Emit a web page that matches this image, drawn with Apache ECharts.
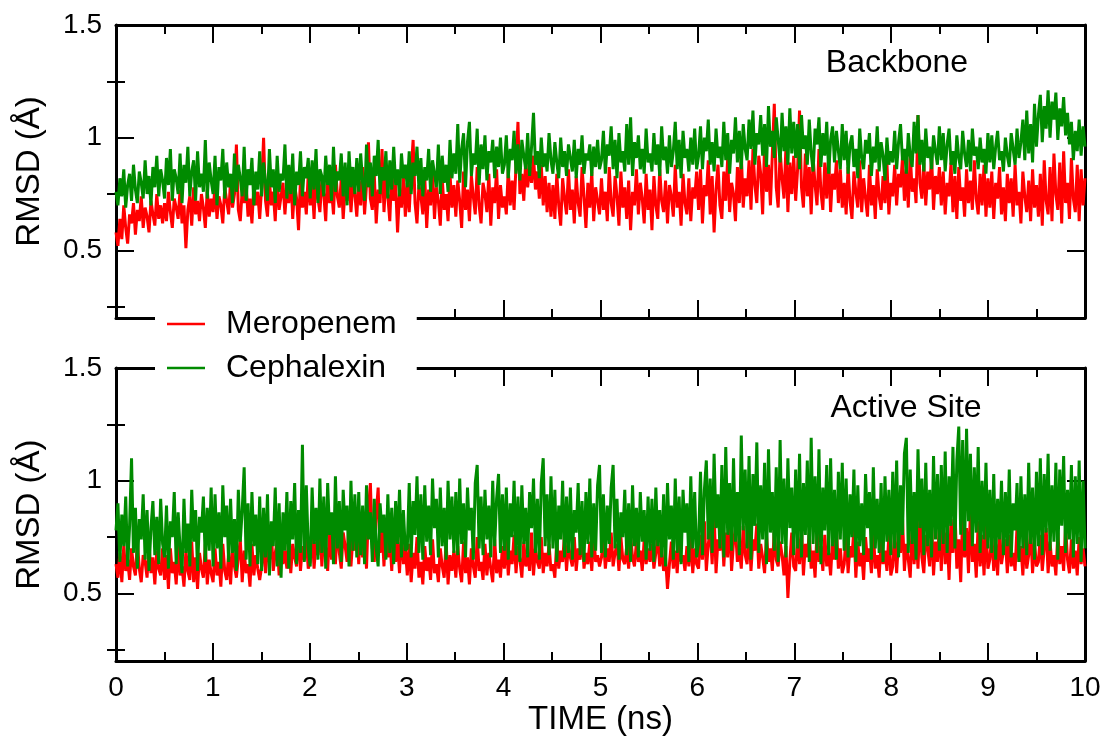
<!DOCTYPE html>
<html><head><meta charset="utf-8">
<script src="https://cdn.jsdelivr.net/npm/echarts@6/dist/echarts.min.js"></script>
<style>html,body{margin:0;padding:0;background:#fff}#c{width:1108px;height:737px}</style>
</head><body><div id="c"></div><script>
// ---- data (RMSD in Å, evenly sampled over 0–10 ns, 25 samples per 0.5 ns) ----
const timeRange = [0, 10];
const yTickValues = [0.5, 1, 1.5];
const yMinorValues = [0.25, 0.75, 1.25];
const seriesNames = ['Meropenem', 'Cephalexin'];
const panelLabels = ['Backbone', 'Active Site'];

const backboneMeropenem = [
0.58,0.52,0.64,0.55,0.70,0.60,0.53,0.66,0.62,0.71,0.57,0.68,0.63,0.74,0.60,0.69,0.65,0.58,0.72,0.66,0.61,0.75,0.64,0.70,0.62,
0.71,0.63,0.76,0.67,0.60,0.73,0.69,0.64,0.77,0.62,0.70,0.51,0.68,0.74,0.61,0.78,0.66,0.72,0.63,0.75,0.69,0.60,0.77,0.65,0.73,
0.67,0.79,0.64,0.74,0.70,0.62,0.78,0.72,0.66,0.81,0.69,0.75,0.97,0.68,0.63,0.77,0.71,0.80,0.65,0.73,0.62,0.79,0.70,0.76,0.64,
0.78,1.00,0.72,0.65,0.81,0.70,0.76,0.63,0.83,0.68,0.74,0.80,0.66,0.78,0.71,0.85,0.64,0.79,0.73,0.59,0.82,0.69,0.76,0.66,0.84,
0.70,0.79,0.64,0.86,0.73,0.67,0.81,0.75,0.63,0.84,0.71,0.77,0.66,0.88,0.74,0.69,0.82,0.64,0.78,0.72,0.86,0.67,0.80,0.75,0.65,
0.81,0.70,0.87,0.66,0.79,0.98,0.73,0.68,0.84,0.62,0.77,0.71,0.95,0.67,0.82,0.74,0.63,0.86,0.72,0.79,0.58,0.76,0.69,0.83,0.65,
0.80,0.67,0.85,0.99,0.71,0.62,0.79,0.74,0.66,0.83,0.60,0.77,0.70,0.86,0.64,0.78,0.72,0.61,0.82,0.68,0.75,0.63,0.84,0.69,0.79,
0.65,0.81,0.72,0.60,0.85,0.68,0.77,0.63,0.83,0.74,0.66,0.87,0.70,0.62,0.80,0.75,0.67,0.84,0.61,0.78,0.71,0.86,0.64,0.79,0.69,
0.74,0.66,0.86,0.70,0.81,0.68,0.88,1.07,0.75,0.84,0.72,0.90,0.78,0.87,0.80,0.92,0.77,0.85,0.73,0.88,0.70,0.83,0.67,0.80,0.65,
0.79,0.64,0.84,0.70,0.61,0.82,0.73,0.66,0.86,0.68,0.77,0.62,0.83,0.71,0.65,0.87,0.74,0.60,0.80,0.69,0.85,0.63,0.78,0.72,0.66,
0.82,0.68,0.76,0.63,0.87,0.71,0.65,0.83,0.74,0.61,0.85,0.69,0.78,0.64,0.81,0.59,0.76,0.70,0.86,0.66,0.80,0.73,0.62,0.84,0.68,
0.77,0.59,0.83,0.70,0.64,0.86,0.72,0.67,0.81,0.62,0.79,0.74,0.65,0.88,0.69,0.76,0.61,0.84,0.71,0.66,0.82,0.63,0.78,0.73,0.85,
0.68,0.86,0.62,0.79,0.74,0.90,0.66,0.83,0.58,0.77,0.88,0.70,0.64,0.85,0.72,0.91,0.67,0.80,0.75,0.63,0.87,0.71,0.93,0.69,0.82,
0.74,0.90,0.68,0.95,0.79,0.71,0.92,0.84,0.66,0.97,0.76,0.88,0.70,0.93,1.15,0.78,0.69,0.94,0.82,0.73,0.96,0.67,0.89,0.75,0.92,
0.72,0.86,1.12,0.78,0.69,0.93,0.74,0.87,0.66,0.91,0.79,0.70,0.95,0.76,0.68,0.89,0.73,0.92,0.67,0.84,0.77,0.90,0.71,0.86,0.69,
0.80,0.66,0.87,0.72,0.64,0.85,0.76,0.69,0.90,0.67,0.82,0.73,0.65,0.88,0.70,0.79,0.64,0.86,0.74,0.68,0.83,0.71,0.89,0.66,0.80,
0.74,0.88,0.70,0.84,0.78,0.91,0.72,0.86,0.69,0.93,0.76,0.82,0.71,1.10,0.80,0.73,0.89,0.70,0.85,0.77,0.92,0.68,0.83,0.75,0.87,
0.70,0.85,0.66,0.80,0.74,0.89,0.67,0.83,0.64,0.87,0.72,0.78,0.65,0.86,0.71,0.81,0.68,0.90,0.73,0.66,0.84,0.70,0.88,0.65,0.82,
0.69,0.85,0.64,0.80,0.73,0.87,0.66,0.78,0.63,0.84,0.71,0.82,0.65,0.88,0.70,0.76,0.62,0.85,0.74,0.67,0.81,0.63,0.86,0.69,0.79,
0.65,0.84,0.61,0.90,0.72,0.66,0.87,0.63,0.93,0.75,0.68,0.89,0.62,0.94,0.71,0.80,0.64,0.91,0.73,0.67,0.88,0.63,0.86,0.70,0.82
];
const backboneCephalexin = [
0.76,0.70,0.82,0.74,0.86,0.69,0.79,0.84,0.72,0.88,0.77,0.71,0.85,0.80,0.73,0.90,0.75,0.83,0.70,0.87,0.78,0.92,0.74,0.86,0.81,
0.73,0.91,0.79,0.95,0.72,0.86,0.82,0.75,0.93,0.71,0.88,0.80,0.96,0.74,0.85,0.90,0.72,0.94,0.78,0.84,0.76,0.99,0.73,0.89,0.81,
0.75,0.92,0.70,0.87,0.81,0.95,0.73,0.89,0.78,0.84,0.71,0.93,0.76,0.88,0.82,0.74,0.96,0.72,0.86,0.79,0.91,0.70,0.85,0.77,0.94,
0.74,0.89,0.80,0.72,0.95,0.78,0.86,0.71,0.92,0.76,0.84,0.81,0.97,0.73,0.88,0.75,0.93,0.70,0.85,0.79,0.94,0.74,0.87,0.82,0.91,
0.73,0.90,0.77,0.95,0.71,0.86,0.83,0.74,0.92,0.79,0.88,0.72,0.96,0.76,0.85,0.81,0.93,0.74,0.89,0.70,0.94,0.78,0.87,0.75,0.91,
0.76,0.93,0.80,0.72,0.97,0.78,0.89,0.74,0.92,0.83,0.99,0.75,0.87,0.81,0.94,0.73,0.90,0.77,0.96,0.79,0.86,0.74,0.93,0.82,0.88,
0.78,0.94,0.75,0.89,0.83,0.96,0.77,0.91,0.74,0.87,0.81,0.95,0.76,0.90,0.84,0.78,0.97,0.75,0.92,0.80,0.88,0.76,0.99,0.82,0.93,
0.84,1.06,0.80,0.95,1.02,0.78,0.98,1.07,0.83,0.93,0.88,1.04,0.79,0.97,0.86,1.01,0.81,0.94,0.89,0.99,0.82,0.96,0.87,1.00,0.84,
0.88,1.01,0.82,0.95,0.90,1.03,0.84,0.97,0.81,0.99,0.92,0.86,1.02,0.83,0.96,1.11,0.88,0.94,0.82,1.00,0.87,0.93,0.85,1.02,0.90,
0.84,0.98,0.89,0.82,1.00,0.87,0.94,0.83,0.97,0.91,0.85,0.99,0.82,0.95,0.88,1.01,0.84,0.93,0.90,0.97,0.83,0.96,0.87,0.99,0.86,
0.90,1.03,0.84,0.97,0.92,1.05,0.86,0.99,0.82,1.02,0.89,0.94,0.85,1.06,0.88,1.09,0.83,0.98,0.91,1.01,0.86,0.95,0.84,1.04,0.89,
0.93,0.85,1.02,0.88,0.97,0.83,1.05,0.90,0.96,0.84,1.01,0.87,0.94,1.07,0.86,0.99,0.82,1.03,0.91,0.95,0.85,1.00,0.88,1.04,0.86,
0.92,1.05,0.86,1.00,0.94,1.08,0.88,0.98,0.85,1.04,0.91,0.96,0.87,1.07,0.90,1.02,0.84,0.99,0.93,1.09,0.89,1.03,0.86,1.06,0.95,
0.90,1.08,0.95,1.12,0.88,1.02,0.97,1.10,0.92,1.06,0.87,1.14,0.96,1.03,0.91,1.09,0.99,0.89,1.11,0.94,1.05,0.88,1.13,0.93,1.07,
0.91,1.06,0.86,1.10,0.95,1.01,0.88,1.08,0.93,0.85,1.04,0.97,1.09,0.87,1.02,0.92,1.07,0.84,0.99,1.05,0.89,1.03,0.94,0.86,1.06,
0.90,1.03,0.84,0.97,1.01,0.87,0.95,0.82,1.04,0.91,0.86,0.99,0.93,1.02,0.83,0.96,0.89,1.05,0.85,0.98,0.92,0.81,1.00,0.88,0.94,
0.89,1.03,0.86,0.98,1.06,0.90,0.95,0.84,1.02,0.92,0.87,1.07,0.93,1.10,0.88,0.99,0.85,1.04,0.91,0.96,0.86,1.01,0.94,0.88,1.05,
0.90,1.02,0.85,0.97,1.04,0.88,0.94,0.84,1.01,0.91,0.86,1.03,0.93,0.87,0.99,0.85,1.04,0.92,0.96,0.86,1.00,0.89,0.95,0.84,1.02,
0.89,1.01,0.86,0.96,1.03,0.90,0.94,0.85,1.00,0.92,0.87,1.02,0.95,0.88,1.04,0.91,0.98,1.08,0.90,1.12,0.93,1.06,0.89,1.15,0.96,
1.10,1.19,0.98,1.14,1.04,1.21,1.00,1.16,1.08,1.20,0.99,1.13,1.05,1.18,1.01,1.11,0.97,1.07,0.90,1.03,0.94,1.08,0.92,1.05,0.96
];
const activeMeropenem = [
0.63,0.57,0.68,0.55,0.71,0.60,0.65,0.56,0.70,0.62,0.58,0.73,0.61,0.55,0.67,0.64,0.57,0.72,0.59,0.66,0.54,0.69,0.61,0.58,0.70,
0.56,0.67,0.52,0.70,0.59,0.64,0.54,0.71,0.58,0.62,0.53,0.69,0.60,0.56,0.73,0.55,0.66,0.52,0.68,0.61,0.57,0.72,0.54,0.65,0.59,
0.55,0.70,0.58,0.64,0.53,0.72,0.60,0.56,0.68,0.54,0.71,0.62,0.57,0.66,0.74,0.55,0.69,0.59,0.63,0.53,0.72,0.58,0.67,0.61,0.56,
0.62,0.74,0.59,0.70,0.64,0.77,0.60,0.68,0.73,0.58,0.76,0.63,0.69,0.61,0.75,0.59,0.72,0.66,0.62,0.78,0.60,0.71,0.65,0.74,0.61,
0.64,0.78,0.61,0.73,0.67,0.82,0.62,0.76,0.70,0.60,0.79,0.65,0.74,0.63,0.81,0.68,0.61,0.77,0.71,0.64,0.84,0.62,0.75,0.69,0.80,
0.63,0.82,0.66,0.77,0.61,0.87,0.99,0.70,0.64,0.85,0.97,0.68,0.79,0.62,0.83,0.66,0.75,0.60,0.80,0.64,0.73,0.59,0.78,0.63,0.70,
0.58,0.72,0.55,0.68,0.61,0.75,0.57,0.64,0.54,0.71,0.60,0.66,0.56,0.74,0.59,0.63,0.55,0.70,0.62,0.57,0.73,0.54,0.67,0.60,0.69,
0.57,0.71,0.61,0.55,0.73,0.59,0.66,0.54,0.70,0.62,0.57,0.75,0.60,0.64,0.56,0.72,0.58,0.68,0.61,0.55,0.74,0.59,0.65,0.57,0.71,
0.61,0.74,0.58,0.69,0.63,0.76,0.59,0.71,0.65,0.57,0.73,0.62,0.67,0.60,0.77,0.58,0.70,0.64,0.61,0.75,0.59,0.68,0.62,0.72,0.60,
0.63,0.57,0.74,0.61,0.69,0.64,0.77,0.60,0.72,0.66,0.62,0.75,0.60,0.70,0.65,0.78,0.61,0.68,0.63,0.73,0.60,0.76,0.64,0.67,0.62,
0.66,0.74,0.61,0.70,0.64,0.77,0.62,0.68,0.72,0.60,0.75,0.65,0.63,0.71,0.61,0.76,0.66,0.62,0.73,0.64,0.69,0.60,0.74,0.63,0.70,
0.64,0.72,0.61,0.68,0.75,0.62,0.70,0.60,0.66,0.52,0.63,0.73,0.61,0.69,0.59,0.74,0.64,0.67,0.60,0.71,0.62,0.76,0.59,0.70,0.63,
0.61,0.76,0.65,0.82,0.60,0.72,0.78,0.63,0.86,0.59,0.74,0.69,0.81,0.62,0.77,0.66,0.84,0.60,0.73,0.79,0.64,0.70,0.61,0.80,0.67,
0.63,0.78,0.60,0.74,0.69,0.81,0.61,0.72,0.66,0.59,0.76,0.64,0.70,0.60,0.79,0.65,0.62,0.73,0.67,0.58,0.71,0.48,0.64,0.77,0.62,
0.60,0.75,0.63,0.80,0.58,0.72,0.66,0.77,0.61,0.69,0.57,0.78,0.64,0.71,0.60,0.76,0.62,0.68,0.58,0.74,0.65,0.79,0.61,0.70,0.59,
0.63,0.77,0.59,0.71,0.66,0.79,0.57,0.73,0.62,0.68,0.56,0.75,0.64,0.70,0.59,0.78,0.61,0.67,0.57,0.74,0.63,0.69,0.60,0.76,0.58,
0.62,0.79,0.59,0.74,0.68,0.84,0.60,0.72,0.65,0.57,0.81,0.63,0.77,0.61,0.85,0.66,0.59,0.76,0.70,0.62,0.82,0.58,0.73,0.64,0.80,
0.60,0.86,0.63,0.77,0.56,0.83,0.68,0.88,0.61,0.74,0.55,0.85,0.66,0.79,0.59,0.87,0.64,0.72,0.57,0.82,0.62,0.76,0.58,0.80,0.61,
0.65,0.77,0.60,0.72,0.58,0.79,0.63,0.69,0.74,0.59,0.76,0.62,0.68,0.60,0.80,0.64,0.71,0.58,0.75,0.61,0.67,0.78,0.59,0.73,0.62,
0.64,0.76,0.60,0.70,0.79,0.59,0.73,0.62,0.67,0.58,0.77,0.63,0.71,0.60,0.80,0.65,0.59,0.74,0.61,0.69,0.58,0.75,0.63,0.70,0.62
];
const activeCephalexin = [
0.78,0.90,0.64,0.85,0.71,0.93,0.62,0.80,1.10,0.68,0.88,0.61,0.83,0.74,0.94,0.65,0.87,0.60,0.79,0.91,0.67,0.84,0.63,0.92,0.72,
0.66,0.89,0.61,0.82,0.75,0.95,0.63,0.86,0.70,0.59,0.92,0.68,0.81,0.62,0.96,0.73,0.87,0.60,0.84,0.77,0.93,0.64,0.88,0.69,0.97,
0.62,0.94,0.70,0.86,0.61,0.98,0.75,0.89,0.64,0.92,0.68,0.83,0.60,0.96,0.73,0.87,1.06,0.65,0.90,0.62,0.95,0.71,0.85,0.63,0.93,
0.60,0.88,0.66,0.94,0.58,0.82,0.71,0.97,0.62,0.90,0.57,0.86,0.69,0.95,0.61,0.91,0.74,0.99,0.63,0.87,0.68,1.16,0.64,0.98,0.70,
0.62,0.97,0.72,0.88,0.65,1.01,0.68,0.93,0.61,0.99,0.76,0.86,0.63,1.02,0.70,0.91,0.64,0.96,0.78,0.89,0.62,1.00,0.69,0.94,0.66,
0.95,0.67,0.89,0.63,0.98,0.74,0.86,0.64,0.92,0.70,0.62,0.90,0.77,0.85,0.65,0.94,0.68,0.88,0.63,0.91,0.72,0.96,0.66,0.87,0.69,
0.70,0.99,0.66,0.91,0.76,1.02,0.68,0.94,0.65,0.98,0.73,0.89,0.67,1.01,0.79,0.92,0.66,0.97,0.71,0.88,0.65,1.00,0.74,0.93,0.68,
0.95,0.67,1.01,0.72,0.90,0.66,0.97,0.78,0.88,0.65,0.99,1.07,0.70,0.93,0.67,0.96,0.74,0.89,0.66,1.00,0.71,0.92,1.03,0.68,0.94,
0.69,0.97,0.65,0.90,0.75,1.00,0.67,0.93,0.64,0.98,0.72,0.88,0.66,0.95,0.79,1.01,0.68,0.92,0.65,0.99,1.10,0.71,0.94,0.67,1.02,
0.70,0.96,0.64,0.89,0.74,1.00,0.66,0.93,0.68,0.97,0.65,0.87,0.77,0.99,0.67,0.91,0.64,0.95,0.72,1.01,0.66,0.90,0.69,0.98,1.07,
0.68,0.94,0.66,0.89,0.72,0.97,1.07,0.70,0.92,0.65,0.86,0.75,0.96,0.67,0.90,0.64,0.98,0.71,0.88,0.66,0.95,0.73,0.87,0.65,0.93,
0.69,0.92,0.64,0.97,0.71,0.87,0.66,0.94,0.62,0.99,0.74,0.89,0.65,1.01,0.68,0.93,0.63,0.96,0.77,0.90,0.64,1.02,0.70,0.95,0.66,
0.72,1.04,0.67,0.96,1.09,0.74,1.01,0.68,1.12,0.79,0.94,0.70,1.07,0.66,1.15,0.76,0.99,0.69,1.10,0.73,0.95,0.67,1.20,0.78,1.05,
0.70,1.11,0.65,1.03,0.80,1.17,0.68,0.98,0.74,1.08,0.63,1.14,0.77,0.95,0.69,1.06,0.64,1.18,0.72,1.01,0.66,1.10,0.79,0.97,0.67,
1.05,0.70,1.12,0.66,0.99,0.76,1.09,0.64,1.19,0.72,1.02,0.68,1.14,0.63,0.97,0.78,1.07,0.67,1.10,0.71,0.96,0.65,1.04,0.74,1.08,
0.69,1.01,0.66,0.94,0.75,1.05,0.64,0.98,0.71,0.90,0.67,1.03,0.79,0.95,0.65,1.06,0.70,0.92,0.68,0.99,0.64,1.02,0.73,0.96,0.67,
1.04,0.70,1.09,0.66,0.98,0.76,1.12,1.19,0.68,1.05,0.72,0.95,0.65,1.14,0.79,1.01,0.67,1.08,0.71,0.96,0.66,1.11,0.74,1.03,0.69,
1.07,0.72,1.13,0.68,1.02,0.80,1.15,0.70,1.09,1.24,0.76,1.18,0.69,1.23,0.82,1.12,0.71,1.06,0.77,1.15,0.68,1.00,0.74,1.08,0.70,
0.96,0.68,1.03,0.65,0.92,0.74,1.00,0.67,0.95,0.71,1.05,0.66,0.90,0.78,0.99,0.64,1.02,0.70,0.94,0.67,1.08,0.72,0.97,0.65,1.04,
0.71,1.10,0.67,1.03,0.77,1.12,0.69,0.98,0.73,1.08,0.65,1.05,0.80,1.11,0.68,0.96,0.74,1.07,0.66,1.02,0.72,1.09,0.64,1.00,0.70
];

// ---- chart ----
const FONT = '"Liberation Sans", Arial, Helvetica, sans-serif';
const BLACK = '#000';
const RED = '#ff0000';
const GREEN = '#008b00';

function toPairs(arr) {
  const n = arr.length;
  return arr.map((v, i) => [timeRange[0] + (timeRange[1] - timeRange[0]) * i / (n - 1), v]);
}

const grids = [
  { left: 116, right: 23, top: 25, height: 293 },
  { left: 116, right: 23, top: 368, height: 294 }
];

function xAxesFor(gi, withLabels) {
  const common = {
    type: 'value', gridIndex: gi, min: timeRange[0], max: timeRange[1], interval: 1,
    axisLine: { show: true, onZero: false, lineStyle: { color: BLACK, width: 3 } },
    axisTick: { show: true, inside: true, length: 18, lineStyle: { color: BLACK, width: 2 } },
    minorTick: { show: true, splitNumber: 2, length: 9, lineStyle: { color: BLACK, width: 2 } },
    splitLine: { show: false }, minorSplitLine: { show: false }
  };
  return [
    Object.assign({}, common, {
      position: 'bottom',
      axisLabel: { show: withLabels, margin: 13, fontSize: 28, color: BLACK, fontFamily: FONT },
      name: withLabels ? 'TIME (ns)' : '',
      nameLocation: 'middle', nameGap: 38,
      nameTextStyle: { fontSize: 33, color: BLACK, fontFamily: FONT }
    }),
    Object.assign({}, common, { position: 'top', axisLabel: { show: false } })
  ];
}

function yAxesFor(gi) {
  const common = { type: 'value', gridIndex: gi, min: 0.2, max: 1.5, splitLine: { show: false } };
  const major = { show: true, inside: true, length: 18, customValues: yTickValues, lineStyle: { color: BLACK, width: 2 } };
  const minor = { show: true, inside: true, length: 9, customValues: yMinorValues, lineStyle: { color: BLACK, width: 2 } };
  return [
    Object.assign({}, common, {
      position: 'left',
      axisLine: { show: true, onZero: false, lineStyle: { color: BLACK, width: 3 } },
      axisTick: major,
      axisLabel: { customValues: yTickValues, margin: 14, fontSize: 28, color: BLACK, fontFamily: FONT },
      name: 'RMSD (Å)', nameLocation: 'middle', nameGap: 70,
      nameTextStyle: { fontSize: 33, color: BLACK, fontFamily: FONT }
    }),
    Object.assign({}, common, { position: 'left', axisLine: { show: false }, axisTick: minor, axisLabel: { show: false } }),
    Object.assign({}, common, {
      position: 'right',
      axisLine: { show: true, onZero: false, lineStyle: { color: BLACK, width: 3 } },
      axisTick: major, axisLabel: { show: false }
    }),
    Object.assign({}, common, { position: 'right', axisLine: { show: false }, axisTick: minor, axisLabel: { show: false } })
  ];
}

function lineSeries(name, data, gi, color) {
  return {
    name, type: 'line', data: toPairs(data),
    xAxisIndex: gi * 2, yAxisIndex: gi * 4,
    showSymbol: false, symbol: 'none', sampling: null,
    lineStyle: { color, width: 3, join: 'miter', miterLimit: 2 }, itemStyle: { color },
    emphasis: { disabled: true }, z: 2
  };
}

const chart = echarts.init(document.getElementById('c'), null, { renderer: 'canvas' });
chart.setOption({
  animation: false,
  backgroundColor: '#fff',
  grid: grids,
  xAxis: [].concat(xAxesFor(0, false), xAxesFor(1, true)),
  yAxis: [].concat(yAxesFor(0), yAxesFor(1)),
  legend: {
    data: seriesNames, orient: 'vertical', left: 155, top: 299,
    backgroundColor: '#fff', padding: [3, 20, 3, 12], itemGap: 0,
    icon: 'rect', itemWidth: 38, itemHeight: 2.5,
    textStyle: { fontSize: 32, color: BLACK, fontFamily: FONT, lineHeight: 44, padding: [0, 0, 0, 16] },
    selectedMode: false, z: 10
  },
  graphic: [
    { type: 'text', x: 897, y: 63, style: { text: panelLabels[0], fontSize: 32, fontFamily: FONT, fill: BLACK, align: 'center', verticalAlign: 'middle' }, z: 10 },
    { type: 'text', x: 906, y: 408, style: { text: panelLabels[1], fontSize: 32, fontFamily: FONT, fill: BLACK, align: 'center', verticalAlign: 'middle' }, z: 10 }
  ],
  series: [
    lineSeries(seriesNames[0], backboneMeropenem, 0, RED),
    lineSeries(seriesNames[1], backboneCephalexin, 0, GREEN),
    lineSeries(seriesNames[0], activeMeropenem, 1, RED),
    lineSeries(seriesNames[1], activeCephalexin, 1, GREEN)
  ]
});
</script></body></html>
